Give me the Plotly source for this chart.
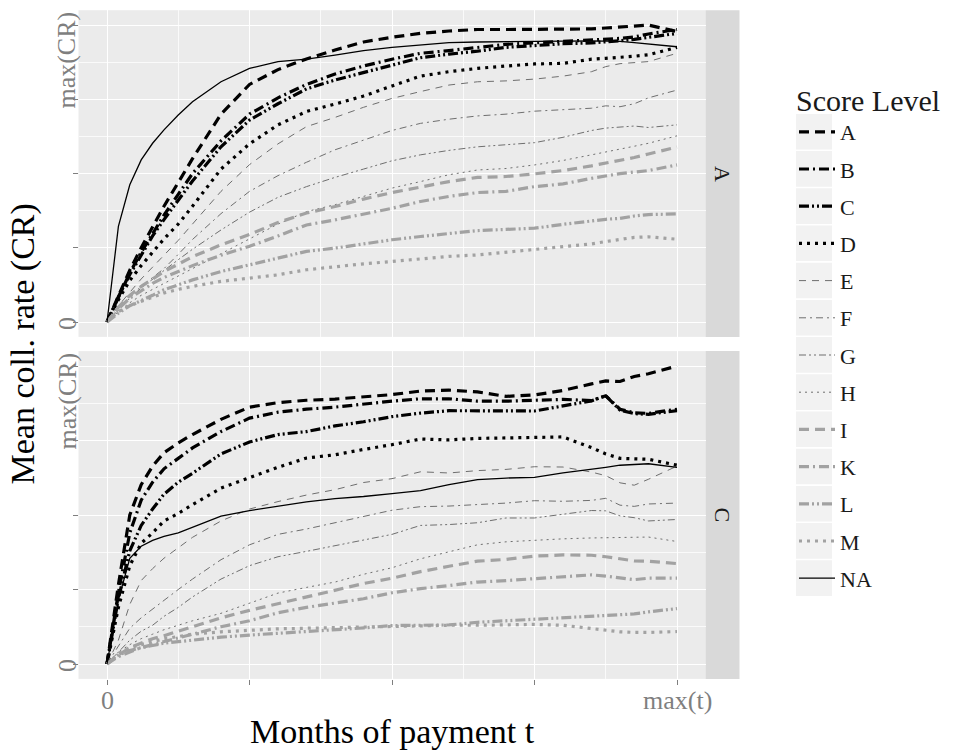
import plotly.graph_objects as go

# ---------------- data ----------------
t_vals = [0, .02, .04, .06, .08, .1, .125, .15, .2, .25, .3, .35, .4, .45, .5,
          .55, .6, .65, .7, .75, .8, .85, .875, .9, .925, .95, 1.0]

score_levels = ["A", "B", "C", "D", "E", "F", "G", "H", "I", "K", "L", "M", "NA"]
facets = ["A", "C"]

# facet A (top panel)
A_A = [0, .09, .175, .25, .32, .39, .47, .55, .70, .80, .85, .886, .916, .943, .959, .972, .98, .985, .985, .985, .985, .987, .99, .993, .997, 1.0, .978]
A_B = [0, .085, .165, .235, .30, .36, .43, .50, .61, .70, .755, .80, .835, .862, .885, .905, .914, .925, .935, .94, .945, .948, .95, .955, .96, .97, .985]
A_C = [0, .085, .16, .225, .29, .345, .41, .475, .59, .68, .735, .785, .815, .84, .865, .89, .902, .912, .925, .932, .937, .94, .943, .947, .952, .958, .972]
A_D = [0, .075, .14, .19, .235, .28, .33, .39, .515, .60, .664, .709, .734, .761, .795, .828, .843, .854, .862, .869, .871, .885, .888, .891, .895, .90, .925]
A_E = [0, .055, .10, .145, .185, .225, .275, .33, .44, .53, .60, .658, .689, .723, .753, .776, .798, .809, .812, .818, .828, .843, .86, .87, .874, .877, .905]
A_F = [0, .045, .085, .12, .15, .18, .228, .278, .365, .44, .493, .538, .58, .613, .645, .669, .683, .694, .70, .71, .716, .72, .728, .725, .735, .755, .781]
A_G = [0, .04, .08, .115, .145, .175, .21, .245, .31, .37, .42, .456, .487, .515, .543, .563, .578, .59, .596, .604, .622, .645, .653, .657, .66, .655, .664]
A_H = [0, .035, .065, .09, .11, .13, .155, .18, .23, .28, .33, .372, .395, .423, .451, .473, .496, .512, .517, .529, .544, .563, .572, .582, .592, .602, .627]
A_I = [0, .05, .09, .12, .145, .17, .195, .22, .26, .295, .335, .367, .389, .414, .436, .454, .473, .487, .49, .499, .51, .526, .535, .544, .554, .566, .589]
A_K = [0, .045, .08, .105, .13, .15, .17, .19, .225, .255, .29, .327, .344, .364, .383, .406, .423, .436, .44, .456, .465, .484, .492, .50, .505, .51, .529]
A_L = [0, .03, .055, .072, .09, .109, .126, .142, .17, .193, .215, .238, .249, .263, .277, .288, .299, .308, .312, .316, .329, .342, .346, .349, .357, .362, .364]
A_M = [0, .035, .055, .07, .085, .098, .11, .12, .137, .148, .159, .176, .187, .196, .204, .212, .221, .226, .235, .245, .254, .263, .271, .277, .285, .287, .279]
A_NA = [0, .322, .462, .546, .602, .647, .697, .742, .809, .854, .877, .885, .899, .914, .925, .934, .941, .943, .944, .947, .947, .947, .946, .945, .941, .936, .927]

# facet C (bottom panel)
C_A = [0, .266, .50, .602, .664, .709, .742, .77, .821, .862, .877, .885, .889, .896, .904, .916, .919, .913, .898, .903, .918, .94, .95, .948, .965, .974, 1.0]
C_B = [0, .24, .44, .55, .61, .655, .69, .725, .78, .825, .845, .855, .862, .873, .882, .89, .89, .882, .882, .885, .888, .884, .90, .855, .843, .841, .855]
C_C = [0, .22, .38, .465, .52, .57, .61, .64, .705, .745, .77, .78, .799, .813, .83, .842, .85, .849, .849, .849, .866, .883, .90, .852, .84, .838, .85]
C_D = [0, .19, .33, .405, .44, .48, .505, .535, .59, .625, .66, .691, .702, .72, .736, .755, .752, .757, .759, .762, .762, .726, .705, .69, .689, .687, .667]
C_E = [0, .08, .20, .28, .32, .355, .39, .425, .48, .52, .545, .567, .585, .609, .622, .645, .641, .649, .653, .662, .661, .644, .632, .608, .60, .62, .664]
C_F = [0, .06, .12, .155, .185, .215, .25, .285, .35, .40, .435, .453, .474, .495, .516, .528, .53, .535, .54, .548, .546, .549, .556, .533, .529, .537, .54]
C_G = [0, .04, .08, .11, .13, .16, .19, .225, .285, .33, .36, .378, .397, .415, .435, .465, .468, .474, .49, .49, .503, .515, .514, .497, .491, .48, .485]
C_H = [0, .04, .065, .085, .10, .115, .13, .145, .17, .205, .238, .257, .275, .301, .323, .353, .377, .40, .41, .416, .42, .423, .424, .424, .425, .426, .411]
C_I = [0, .03, .055, .07, .085, .095, .11, .125, .155, .18, .202, .226, .248, .27, .288, .31, .328, .345, .351, .362, .366, .365, .36, .352, .346, .345, .337]
C_K = [0, .025, .04, .055, .065, .075, .09, .10, .125, .145, .172, .19, .204, .219, .239, .253, .263, .275, .28, .286, .292, .299, .295, .29, .283, .288, .288]
C_L = [0, .03, .045, .055, .062, .07, .075, .08, .09, .097, .103, .107, .113, .121, .129, .129, .131, .14, .145, .15, .155, .16, .163, .164, .168, .175, .186]
C_M = [0, .035, .055, .065, .075, .085, .092, .10, .108, .113, .118, .12, .122, .125, .127, .128, .13, .13, .131, .133, .13, .12, .114, .108, .106, .106, .109]
C_NA = [0, .215, .355, .395, .415, .428, .44, .459, .496, .515, .529, .544, .555, .562, .572, .582, .602, .619, .624, .626, .641, .652, .66, .667, .67, .672, .66]

x_tick_vals = [0, .25, .5, .75, 1]
x_tick_text = ["0", "", "", "", "max(t)"]
y_tick_vals = [0, .25, .5, .75, 1]
y_tick_text = ["0", "", "", "", "max(CR)"]

series = {
    "A": {"A": A_A, "B": A_B, "C": A_C, "D": A_D, "E": A_E, "F": A_F, "G": A_G,
          "H": A_H, "I": A_I, "K": A_K, "L": A_L, "M": A_M, "NA": A_NA},
    "C": {"A": C_A, "B": C_B, "C": C_C, "D": C_D, "E": C_E, "F": C_F, "G": C_G,
          "H": C_H, "I": C_I, "K": C_K, "L": C_L, "M": C_M, "NA": C_NA},
}

# ---------------- styles ----------------
BLACK, DARK, LIGHT = "#000000", "#6e6e6e", "#a2a2a2"
THICK, THIN = 3.2, 1.0
thick_dash = {"dash": "10px,6px", "dotdash": "10px,4px,2px,4px",
              "twodot": "10px,3px,2px,3px,2px,3px", "dot": "3px,5px"}
thin_dash = {"dash": "7px,6px", "dotdash": "7px,4px,2px,4px",
             "twodot": "7px,3px,2px,3px,2px,3px", "dot": "2px,4px"}
styles = {
    "A": (BLACK, THICK, thick_dash["dash"]),
    "B": (BLACK, THICK, thick_dash["dotdash"]),
    "C": (BLACK, THICK, thick_dash["twodot"]),
    "D": (BLACK, THICK, thick_dash["dot"]),
    "E": (DARK, THIN, thin_dash["dash"]),
    "F": (DARK, THIN, thin_dash["dotdash"]),
    "G": (DARK, THIN, thin_dash["twodot"]),
    "H": (DARK, THIN, thin_dash["dot"]),
    "I": (LIGHT, THICK, thick_dash["dash"]),
    "K": (LIGHT, THICK, thick_dash["dotdash"]),
    "L": (LIGHT, THICK, thick_dash["twodot"]),
    "M": (LIGHT, THICK, thick_dash["dot"]),
    "NA": (BLACK, 1.3, "solid"),
}

FONT = "Liberation Serif"
W, H = 957, 751
TICK_GRAY = "#7f7f7f"

fig = go.Figure()
for facet, (xa, ya) in zip(facets, [("x2", "y2"), ("x", "y")]):
    for lvl in score_levels:
        col, wd, dash = styles[lvl]
        fig.add_trace(go.Scatter(
            x=t_vals, y=series[facet][lvl], mode="lines", name=lvl,
            legendgroup=lvl, showlegend=(facet == "A"),
            line=dict(color=col, width=wd, dash=dash),
            xaxis=xa, yaxis=ya, hoverinfo="skip"))

# geometry (pixels from top-left)
px_left, px_right = 78.5, 705.5
top_y0, top_y1 = 10.2, 336.9
bot_y0, bot_y1 = 351.1, 678.9
strip_x1 = 739.5


def fx(p):
    return p / W


def fy(p):
    return 1 - p / H


grid = dict(showgrid=True, gridcolor="white", gridwidth=1.1, zeroline=False,
            minor=dict(dtick=0.125, tick0=0, showgrid=True, gridcolor="#fafafa", gridwidth=0.6))

fig.update_layout(
    width=W, height=H, margin=dict(l=0, r=0, t=0, b=0, autoexpand=False),
    paper_bgcolor="white", plot_bgcolor="#ebebeb",
    xaxis=dict(domain=[fx(px_left), fx(px_right)], range=[-0.05, 1.05], anchor="y",
               tickvals=x_tick_vals, showticklabels=False, ticks="outside", ticklen=5,
               tickcolor=TICK_GRAY, showline=False, **grid),
    xaxis2=dict(domain=[fx(px_left), fx(px_right)], range=[-0.05, 1.05], anchor="y2",
                matches="x", tickvals=x_tick_vals, showticklabels=False, ticks="",
                showline=False, **grid),
    yaxis=dict(domain=[fy(bot_y1), fy(bot_y0)], range=[-0.05, 1.05], anchor="x",
               tickvals=y_tick_vals, showticklabels=False, ticks="outside", ticklen=5,
               tickcolor=TICK_GRAY, showline=False, **grid),
    yaxis2=dict(domain=[fy(top_y1), fy(top_y0)], range=[-0.05, 1.05], anchor="x2",
                tickvals=y_tick_vals, showticklabels=False, ticks="outside", ticklen=5,
                tickcolor=TICK_GRAY, showline=False, **grid),
    legend=dict(x=fx(794), y=fy(72), xanchor="left", yanchor="top",
                bgcolor="rgba(0,0,0,0)", itemwidth=36, tracegroupgap=5.6,
                font=dict(family=FONT, size=22, color="#1a1a1a"),
                title=dict(text="Score Level", font=dict(family=FONT, size=30, color="#1a1a1a"))),
    showlegend=True,
)

shapes = []
annotations = []
tick_font = dict(family=FONT, size=26, color=TICK_GRAY)

# facet strips
for facet, (y0, y1) in zip(facets, [(top_y0, top_y1), (bot_y0, bot_y1)]):
    shapes.append(dict(type="rect", xref="paper", yref="paper", x0=fx(px_right), x1=fx(strip_x1),
                       y0=fy(y1), y1=fy(y0), fillcolor="#d9d9d9", line=dict(width=0), layer="below"))
    annotations.append(dict(xref="paper", yref="paper", x=fx((px_right + strip_x1) / 2),
                            y=fy((y0 + y1) / 2), xanchor="center", yanchor="middle",
                            text=facet, showarrow=False, textangle=90,
                            font=dict(family=FONT, size=22, color="#1a1a1a")))

# y tick labels (rotated), placed on each panel's y axis
for ya in ["y", "y2"]:
    for v, txt in zip(y_tick_vals, y_tick_text):
        if not txt:
            continue
        if v == 0:
            annotations.append(dict(xref="paper", yref=ya, x=fx(67), y=v, yshift=-2,
                                    xanchor="center", yanchor="middle", text=txt,
                                    showarrow=False, textangle=-90, font=tick_font))
        else:
            annotations.append(dict(xref="paper", yref=ya, x=fx(67), y=v, yshift=15,
                                    xanchor="center", yanchor="top", text=txt,
                                    showarrow=False, textangle=-90, font=tick_font))
# x tick labels
for v, txt in zip(x_tick_vals, x_tick_text):
    if txt:
        annotations.append(dict(xref="x", yref="paper", x=v, y=fy(700),
                                xanchor="center", yanchor="middle", text=txt,
                                showarrow=False, font=tick_font))

# legend key backgrounds
for i in range(len(score_levels)):
    cy = 131.7 + 37.2 * i
    shapes.append(dict(type="rect", xref="paper", yref="paper", x0=fx(796), x1=fx(832),
                       y0=fy(cy + 17.8), y1=fy(cy - 17.8), fillcolor="#f2f2f2",
                       line=dict(width=0), layer="below"))
# axis titles
annotations.append(dict(xref="paper", yref="paper", x=fx(392), y=fy(731),
                        xanchor="center", yanchor="middle",
                        text="Months of payment t", showarrow=False,
                        font=dict(family=FONT, size=34, color="black")))
annotations.append(dict(xref="paper", yref="paper", x=fx(22), y=fy(344.5),
                        xanchor="center", yanchor="middle",
                        text="Mean coll. rate (CR)", showarrow=False, textangle=-90,
                        font=dict(family=FONT, size=34, color="black")))
fig.update_layout(shapes=shapes, annotations=annotations)

fig.write_html("out.html")
